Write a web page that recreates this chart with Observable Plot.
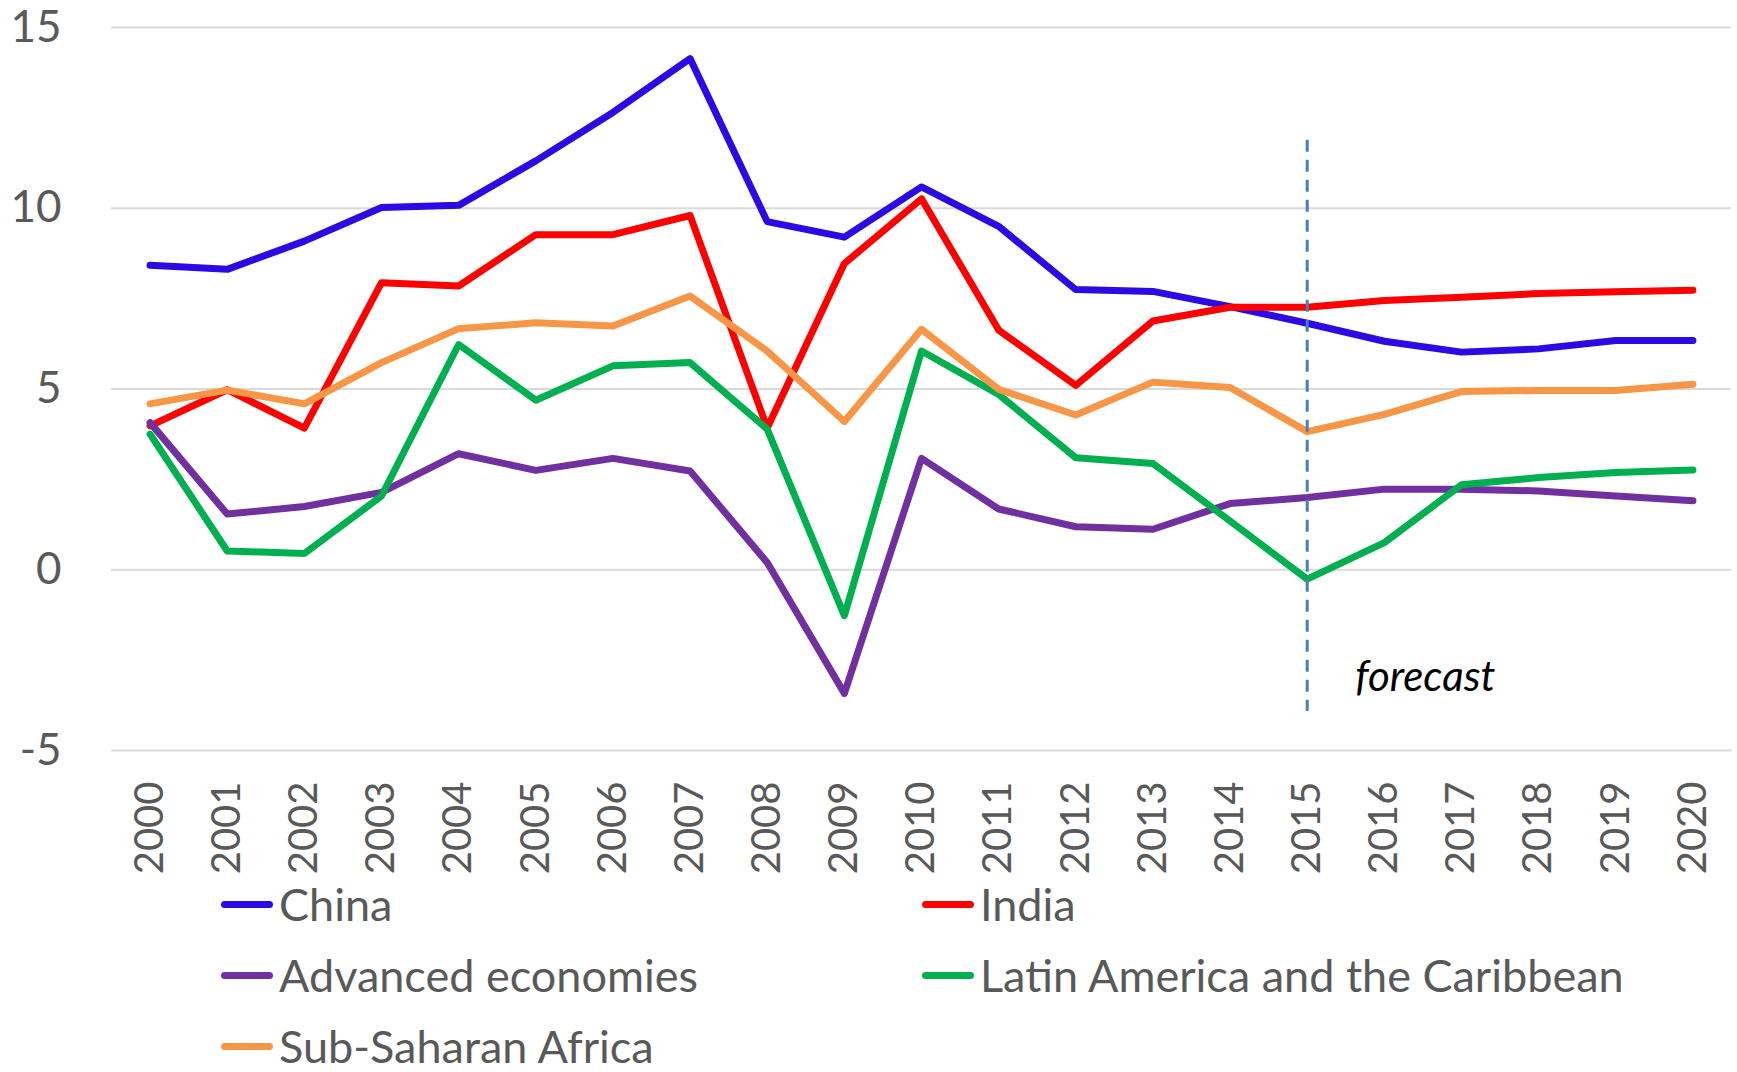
<!DOCTYPE html>
<html>
<head>
<meta charset="utf-8">
<script src="https://cdn.jsdelivr.net/npm/d3@7"></script>
<script src="https://cdn.jsdelivr.net/npm/@observablehq/plot@0.6"></script>
<style>
  html, body { margin: 0; padding: 0; background: #fff; }
  #wrap { width: 1737px; height: 1072px; overflow: hidden; position: relative; }
  .legend { position: relative; margin-top: -6px; padding-left: 221px; display: grid; grid-template-columns: 701px auto; grid-auto-rows: 71px; font-family: Lato, "Open Sans", sans-serif; font-size: 45px; line-height: 1; color: #595959; }
  .item { display: flex; align-items: center; }
  .sw { width: 52px; height: 7px; border-radius: 4px; margin-right: 6px; }
</style>
</head>
<body>
<div id="wrap"></div>
<script>
const years = [2000,2001,2002,2003,2004,2005,2006,2007,2008,2009,2010,2011,2012,2013,2014,2015,2016,2017,2018,2019,2020];
const china    = [8.42,8.31,9.09,10.02,10.08,11.31,12.65,14.14,9.63,9.20,10.59,9.50,7.75,7.70,7.28,6.82,6.32,6.02,6.11,6.34,6.34];
const india    = [3.98,4.98,3.92,7.94,7.85,9.27,9.27,9.80,3.92,8.47,10.26,6.63,5.10,6.88,7.26,7.26,7.45,7.54,7.64,7.69,7.73];
const advanced = [4.07,1.54,1.75,2.14,3.21,2.75,3.08,2.73,0.20,-3.42,3.08,1.68,1.19,1.12,1.83,2.00,2.23,2.23,2.18,2.04,1.91];
const latam    = [3.75,0.52,0.45,2.04,6.23,4.69,5.64,5.73,3.89,-1.27,6.05,4.85,3.10,2.94,1.35,-0.26,0.75,2.35,2.55,2.69,2.76];
const ssa      = [4.59,4.97,4.59,5.73,6.67,6.83,6.74,7.57,6.05,4.10,6.65,4.99,4.28,5.19,5.04,3.82,4.30,4.93,4.96,4.96,5.13];
const seriesNames  = ["China","India","Advanced economies","Latin America and the Caribbean","Sub-Saharan Africa"];
const seriesValues = [china, india, advanced, latam, ssa];
const seriesColors = ["#2B0AE3","#FF0000","#7030A0","#00B050","#F79646"];
const yTicks = [-5,0,5,10,15];
const forecastYear = [2015];
const forecastSpan = [11.88, -3.92];
const forecastLabel = [{year: 2016.53, value: -2.98, text: "forecast"}];

const data = [];
seriesNames.forEach((name, i) => {
  years.forEach((yr, j) => data.push({series: name, year: yr, value: seriesValues[i][j]}));
});

const chart = Plot.plot({
  width: 1737,
  height: 875,
  marginLeft: 111,
  marginRight: 6,
  marginTop: 27,
  marginBottom: 125,
  style: {fontFamily: "Lato, 'Open Sans', sans-serif", background: "white", overflow: "visible"},
  x: {domain: [1999.5, 2020.5]},
  y: {domain: [-5, 15]},
  color: {domain: seriesNames, range: seriesColors},
  marks: [
    Plot.gridY(yTicks, {stroke: "#d9d9d9", strokeOpacity: 1, strokeWidth: 2}),
    Plot.axisY(yTicks, {tickSize: 0, tickPadding: 50, fontSize: 44, fill: "#595959", tickFormat: d => String(d), label: null}),
    Plot.axisX(years, {tickSize: 0, tickPadding: 31, tickRotate: -90, fontSize: 40, fill: "#595959", tickFormat: d => String(d), label: null}),
    Plot.line(data, {x: "year", y: "value", z: "series", stroke: "series", strokeWidth: 7, strokeLinecap: "round", strokeLinejoin: "round"}),
    Plot.ruleX(forecastYear, {x: d => d, y1: forecastSpan[0], y2: forecastSpan[1], stroke: "#4A7EBB", strokeWidth: 3, strokeDasharray: "12,8"}),
    Plot.text(forecastLabel, {x: "year", y: "value", text: "text", fontSize: 42, fontStyle: "italic", fill: "#000", textAnchor: "middle"})
  ]
});

const wrap = document.getElementById("wrap");
wrap.appendChild(chart);

const legend = document.createElement("div");
legend.className = "legend";
seriesNames.forEach((name, i) => {
  const it = document.createElement("div");
  it.className = "item";
  const sw = document.createElement("span");
  sw.className = "sw";
  sw.style.background = seriesColors[i];
  const tx = document.createElement("span");
  tx.textContent = name;
  it.appendChild(sw);
  it.appendChild(tx);
  legend.appendChild(it);
});
wrap.appendChild(legend);
</script>
</body>
</html>
